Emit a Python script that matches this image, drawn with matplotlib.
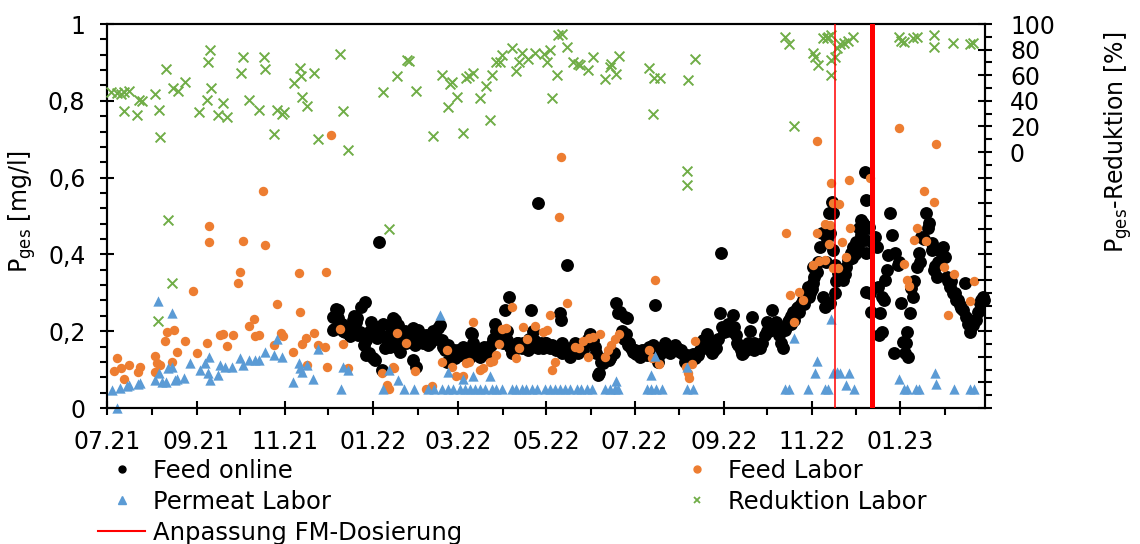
import numpy as np
import matplotlib
matplotlib.use("Agg")
import matplotlib.pyplot as plt
import matplotlib.dates as mdates
from matplotlib.ticker import MultipleLocator, FuncFormatter
from matplotlib.lines import Line2D

plt.rcParams['font.family'] = ['DejaVu Sans']
plt.rcParams['mathtext.fontset'] = 'dejavusans'

# ---------------- data (x = days since START) ----------------
START = '2021-07-01'
X_END_DAY = 607.5
fm_dates = ['2022-11-17', '2022-12-12']          # Anpassung FM-Dosierung

# Feed online  P_ges [mg/l]
feed_online = [
    (156.5,.238),(156.5,.203),(157,.205),(158.5,.257),(159.5,.234),(160,.255),(160.5,.22),(162.5,.219),
    (163.5,.2),(164.5,.199),(166,.21),(168,.188),(169.5,.208),(170,.229),(171,.24),(172.5,.225),(173,.234),
    (174,.19),(175,.199),(176,.262),(177.5,.164),(178.5,.277),(179.5,.177),(179.5,.138),(181,.142),(182,.2),
    (183,.225),(184,.129),(185.5,.125),(186.5,.181),(187.5,.21),(188.5,.433),(189,.194),(190,.099),(191,.22),
    (192.5,.155),(193.5,.177),(195,.19),(196,.16),(197,.208),(198,.234),(199,.229),(199,.194),(200.5,.177),
    (201.5,.155),(201.5,.216),(203,.147),(204,.19),(206,.2),(207,.17),(208.5,.199),(210,.18),(212,.2075),
    (212,.125),(213,.164),(213.5,.1075),
    (215.5,.203),(216.5,.18),(217.5,.19),(218.5,.17),(220,.177),(221,.19),(222,.164),(223.5,.17),(224.5,.186),
    (225.5,.2),(227,.194),(228,.18),(229,.2075),(230.5,.216),(231.5,.177),(232.5,.16),(234,.151),(235,.12),
    (236,.164),(237,.15),(238.5,.142),(240,.15),(241,.13),
    (242,.138),(243,.15),(244,.138),(244,.142),(245.5,.145),(246.5,.16),(247.5,.151),(248.5,.14),(249.5,.14),
    (251,.134),(252,.195),(252.5,.194),(253.5,.17),(254.5,.155),(255.5,.14),(256.5,.15),(258,.134),(259.5,.151),
    (261,.16),(262.5,.155),(263.5,.14),(264.5,.16),(266,.164),(267,.18),(268.5,.22),(269.5,.2),(270.5,.18),
    (271.5,.19),
    (272.5,.199),(274,.17),(275.5,.255),(276.5,.2),(277,.177),(278,.29),(279,.16),(280,.142),(281.5,.15),
    (282,.16),(283.5,.17),(284.5,.17),(286,.16),(287,.155),(288,.17),(289,.16),(290,.164),(291,.15),(292,.18),
    (293.5,.255),(294.5,.2),(295.5,.177),(296.5,.17),(297,.16),(298.5,.155),(298.5,.535),(299,.165),(300,.17),
    (302,.155),
    (303,.17),(304,.17),(305,.16),(306.5,.155),(307,.16),(308,.165),(309.5,.16),(311,.151),(312.5,.16),
    (313.5,.2465),(314,.229),(314.5,.142),(315,.17),(316,.16),(318,.372),(319,.15),(320.5,.134),(321.5,.15),
    (322.5,.16),(324,.17),(325,.15),(326,.142),(327,.16),(328,.16),(329.5,.151),(331,.17),(332.5,.18),
    (334,.194),(335,.18),(336.5,.177),(337.5,.16),(338.5,.142),(339.5,.086),(340.5,.09),(342,.12),(343.5,.116),
    (345,.13),(347,.125),(348,.13),(349,.135),(350.5,.142),(352,.273),(353.5,.2465),(355,.25),(356.5,.2),
    (357.5,.18),(358.5,.238),(359,.194),(359.5,.234),(360.5,.164),(361.5,.17),(362.5,.155),
    (364,.147),(365,.15),(366,.14),(368,.14),(368.5,.134),(370,.15),(371,.14),(372,.15),(373.5,.138),(375,.16),
    (375.5,.15),(376.5,.16),(378,.164),(379,.268),(380,.14),(381,.12),(382.5,.14),(383.5,.15),(384.5,.16),
    (386,.168),(386.5,.15),(387.5,.155),(389.5,.142),(390.5,.16),(391,.15),(393,.164),
    (394.5,.155),(396.5,.147),(397.5,.15),(398.5,.14),(400,.12),(401,.138),(402,.13),(403,.12),(404.5,.134),
    (405.5,.14),(406.5,.13),(407.5,.14),(409,.138),(410.5,.15),(411.5,.16),(412.5,.177),(413.5,.17),(415,.194),
    (415.5,.18),(416.5,.16),(417.5,.15),(418.5,.142),(420,.15),(421,.16),(421.5,.155),(423,.18),(424,.2465),
    (424.5,.404),(425.5,.21),(427,.199),(428.5,.2),(430,.22),(431.5,.2),(433,.242),(434,.21),(435,.19),
    (436,.17),(436.5,.164),(438.5,.15),(439.5,.14),(440,.142),(442,.15),(443,.16),(443.5,.168),(445,.2),
    (446,.238),(447.5,.17),(448,.151),(450,.16),(451,.165),(451.5,.155),(453.5,.17),
    (455,.19),(456.5,.225),(457,.2),(458,.2),(459,.21),(460,.255),(461.5,.22),(463,.225),(464,.2),(465,.19),
    (466.5,.17),(468,.155),(469,.203),(470,.21),(471,.225),(472,.23),(473,.24),(473.5,.22),(474.5,.251),
    (475.5,.23),(476.5,.25),(477.5,.26),(478,.264),(479,.25),(480,.27),(481.5,.281),(482.5,.27),(483.5,.3),
    (484,.29),
    (485,.316),(486,.29),(486.5,.3),(487.5,.31),(488.5,.325),(488.5,.368),(489.5,.34),(491,.355),(492,.38),
    (493,.42),(494.5,.455),(495.5,.29),(496.5,.264),(497.5,.38),(498,.44),(499.5,.509),(500,.455),(500,.273),
    (501.5,.537),(502,.507),(502.5,.411),(503.5,.372),(503.5,.299),(504.5,.33),(506,.351),(507.5,.34),
    (508.5,.36),(509.5,.333),(510.5,.35),(511,.368),(513,.385),(514.5,.403),
    (515.5,.39),(516,.42),(517.5,.4),(518.5,.433),(519.5,.42),(520.5,.468),(521.5,.45),(522,.49),(523,.481),
    (524.5,.4375),(524.5,.615),(525.5,.403),(525.5,.542),(525.5,.303),(526.5,.47),(527.5,.472),(528,.3),
    (528.5,.25),(529,.433),(531.5,.446),(532.5,.42),(533.5,.316),(534.5,.19),(535,.2465),(536,.29),(536.5,.199),
    (537.5,.28),(538,.333),(539.5,.359),(540.5,.398),(541.5,.507),(543,.45),(544.5,.142),(545,.403),
    (547.5,.372),(548,.38),(549.5,.273),(550.5,.173),(552,.144),(553,.168),(553.5,.199),(554,.134),(555.5,.2465),
    (556.5,.312),(557.5,.29),(558.5,.33),(560.5,.368),(562,.403),(562.5,.38),(563.5,.446),(565,.44),(567,.507),
    (568,.47),(569,.481),(570.5,.411),(571,.43),(572,.359),(573,.37),(574.5,.342),(575,.38),(576,.411),
    (577.5,.4),(578.5,.42),(579.5,.394),(581,.342),(582,.33),(583,.316),(584,.33),(585.5,.299),(586.5,.3),
    (587.5,.281),(589,.28),(590,.268),(591,.26),(592.5,.255),(593.5,.325),(594.5,.238),(596,.22),(597,.199),
    (598,.21),(599.5,.216),(600.5,.23),(601.5,.229),(603,.25),(604,.273),(605,.28),(606,.29),(607,.28),
]

# Feed Labor  P_ges [mg/l]
feed_labor = [
    (5,.097),(6.7,.129),(9.7,.103),(12,.075),(15.3,.112),(21.7,.095),(23,.108),(33,.135),(33.4,.095),
    (34.6,.116),(36.7,.112),(40,.175),(41.5,.199),(44.7,.12),(46.6,.203),(48.2,.147),(54,.175),(59.6,.305),
    (62.6,.144),(69,.17),(70.6,.474),(70.6,.433),(78,.189),(80.5,.193),(82.8,.161),(87.5,.19),(90.8,.326),
    (92,.353),(94.3,.436),(98.2,.214),(101.9,.231),(102.4,.1875),(105.4,.19),(108.1,.566),(109.3,.424),
    (115.3,.164),(117.3,.27),(120.3,.196),(122,.1875),(128.9,.147),(133,.351),(133.5,.251),(135.2,.167),
    (137.7,.181),(138.2,.112),(143.1,.196),(146.1,.165),(150.8,.158),(151.5,.353),(152.4,.108),(154.8,.711),
    (161,.205),(163,.167),(167,.103),(190.6,.09),(193.4,.06),(195.3,.049),(197.8,.108),(198.8,.103),
    (200.8,.195),(207.2,.169),(213.2,.096),(220.5,.049),(224.6,.057),(231.6,.12),(235.1,.15),(238.6,.1075),
    (241.5,.084),(246,.083),(248.5,.118),(250.5,.12),(253.5,.225),(258.4,.099),(260.4,.103),(264.9,.12),
    (267.4,.123),(269.4,.138),(271.4,.167),(273.4,.205),(276.3,.2075),(280.3,.262),(282.9,.129),(285.3,.155),
    (288,.21),(290.7,.18),(296.2,.2135),(301.8,.199),(304.2,.203),(306.4,.242),(308.1,.1),(310.1,.12),
    (312.6,.4985),(314.3,.6545),(318.1,.273),(324,.158),(326.7,.155),(329.5,.175),(333,.134),(333.6,.181),
    (336.4,.186),(340.9,.193),(344.5,.132),(346.9,.151),(348.4,.164),(351.4,.179),(354.4,.193),(374.9,.151),
    (377.4,.13),(379,.334),(382.2,.114),(400.6,.108),(402.1,.09),(402.6,.077),(404.6,.115),(406.5,.175),
    (469.5,.455),(472.4,.294),(475.4,.225),(478.7,.303),(481.7,.281),(488.3,.372),(491,.455),(491.6,.6945),
    (492.5,.384),(496.7,.479),(497,.385),(499.4,.427),(500,.477),(500.8,.585),(502,.535),(502,.364),
    (505.9,.364),(506.5,.531),(508.5,.433),(511.3,.394),(513.5,.594),(514.4,.47),(527.8,.598),(548.1,.7295),
    (551.3,.375),(553.2,.333),(555,.318),(558.6,.4375),(560.6,.468),(565.6,.566),(566.6,.436),(572.5,.537),
    (573.3,.6875),(579,.368),(582,.242),(585.9,.349),(597.4,.2795),(599.7,.3315),
]

# Permeat Labor  P_ges [mg/l]
permeat_labor = [
    (3.3,.047),(6.7,.0),(9,.051),(13.7,.056),(15.3,.06),(21.7,.0625),(23,.066),(33,.073),(35.1,.2795),
    (35.8,.092),(38.3,.0685),(40.8,.0685),(42.4,.103),(44.7,.2465),(44.7,.1075),(47,.073),(48.7,.0745),
    (53.5,.077),(57.5,.116),(64.3,.099),(67.8,.118),(70.1,.09),(70.6,.134),(71.3,.073),(76.5,.086),(78.1,.112),
    (81.5,.1075),(86.3,.1075),(92,.129),(94.3,.112),(98.2,.125),(102.4,.125),(105.4,.125),(109.5,.147),
    (115.3,.138),(117.8,.179),(120.8,.134),(128.9,.0685),(133,.116),(133.5,.103),(135.2,.095),(138.2,.112),
    (142.7,.0745),(146.1,.153),(161.6,.049),(163,.1075),(167,.099),(191.1,.049),(195.3,.1),(201.5,.073),
    (205.8,.05),(212.7,.05),(222.3,.05),(226.6,.05),(230.3,.242),(231.6,.05),(235.6,.095),(236.2,.05),
    (239.6,.05),(244.2,.05),(246.5,.0745),(247.5,.05),(251.1,.05),(253.5,.083),(254.5,.05),(258,.05),
    (261.4,.05),(264.9,.083),(266.1,.05),(269.4,.05),(273.1,.05),(279.9,.05),(283.3,.05),(287,.05),(290.2,.05),
    (293.8,.05),(297.2,.05),(303,.05),(306.4,.05),(309.9,.05),(313.3,.05),(316.8,.05),(320.3,.05),(324.9,.05),
    (328.3,.05),(331.8,.05),(335.3,.05),(344.5,.05),(347.9,.05),(351.4,.05),(352.2,.071),(353.7,.05),
    (373.3,.05),(376.7,.05),(376.7,.086),(379,.135),(380.2,.05),(383.7,.05),(401,.106),(401,.05),(405.5,.049),
    (469,.049),(471.8,.049),(475.4,.181),(485.1,.049),(490,.09),(491.5,.123),(496.7,.049),(499,.049),
    (500.8,.231),(502,.09),(505.1,.095),(507.4,.09),(511.4,.06),(513.5,.09),(516.7,.049),(548.1,.0745),
    (551.3,.049),(553.6,.049),(559.6,.05),(561.8,.05),(572.7,.092),(573.3,.0625),(585.9,.049),(597,.049),
    (599.7,.049),
]

# Reduktion Labor  P_ges-Reduktion [%]
reduktion_labor = [
    (3,47),(7,46),(10,45),(12,47),(12,32),(15,48),(21,29),(22,41),(24,40),(33,45),(35,-132),(36,33),(37,11.5),
    (41,65),(42,-53),(45,-102),(46,50),(49,48),(54,55),(64,31.5),(69,41),(70,70.5),(71,80),(72,50),(77,29),
    (80,38),(83,27.6),(92.4,61.5),(94.4,74),(98.4,41),(105.4,33),(108.3,74),(109.3,64.6),(115.3,14),(117.3,33),
    (121.3,30),(122.3,31),(129.2,54),(133.2,66),(134.2,59),(135.2,43),(138.2,36),(143.1,62),(146.1,10),
    (161,76.6),(163,32),(167,1.6),(190.8,46.6),(194.8,-60),(200.8,59),(207.7,72),(208.7,71),(213.7,48),
    (225.6,12.5),(231.6,60),(235.6,35),(237.6,53),(238.6,55),(242.5,43),(246.5,15),(248.5,57.6),(250.5,59),
    (253.5,62),(258.4,42),(262.4,51.6),(264.9,25),(266.4,60),(269.4,70),(271.9,70.6),(273.4,76),(280.3,81),
    (283.3,63),(285.3,70.6),(287.3,77),(291.2,73),(296.2,77.6),(302.2,76.6),(304.2,70.6),(306.2,80),(308.1,42),
    (311.1,60),(312.1,91.4),(315.1,92),(318.1,82),(322.6,70.6),(326,69),(327,68),(333,64),(336,74),(344.4,57),
    (347.9,66.7),(348.9,68.75),(351.9,61),(354.4,75),(374.7,66),(377.7,29.7),(378.7,58),(382.7,58),
    (401.6,-15),(401.6,-26),(402.1,56),(406.5,72.4),(469.2,90),(471.8,84),(475.1,20),(488.5,77),(490,74),
    (492,68),(495.5,88.8),(498,88.8),(499,89.6),(501,72),(501,60),(501,91.4),(503.6,74.5),(505,81),(506.9,84),
    (509.9,85),(512.9,87),(515.9,90),(547.7,90),(549.7,87),(551.7,86),(557.6,88.8),(560.6,89.6),(572.5,91.4),
    (572,81.8),(585.5,85.4),(597,84),(599.4,85),
]

left_ticks = [0, 0.2, 0.4, 0.6, 0.8, 1.0]
right_labels_min = 0      # right-axis labels shown only from 0 to 100

# ---------------- plotting ----------------
t0 = mdates.date2num(np.datetime64(START))

def split(data):
    d, v = zip(*data)
    return t0 + np.asarray(d, float), np.asarray(v, float)

W, H = 1140, 544
fig = plt.figure(figsize=(W / 100, H / 100), dpi=100)
ax = fig.add_axes([107 / W, 136 / H, 878 / W, 384 / H])
ax2 = ax.twinx()

C_ON, C_FL, C_PL, C_RL = 'black', '#ED7D31', '#5B9BD5', '#70AD47'

x, y = split(feed_online)
ax.scatter(x, y, s=86, c=C_ON, linewidths=0, zorder=3, clip_on=False)
x, y = split(feed_labor)
ax.scatter(x, y, s=46, c=C_FL, linewidths=0, zorder=4, clip_on=False)
x, y = split(permeat_labor)
ax.scatter(x, y, s=55, marker='^', c=C_PL, linewidths=0, zorder=5, clip_on=False)
x, y = split(reduktion_labor)
ax2.scatter(x, y, s=50, marker='x', c=C_RL, linewidths=1.4, zorder=3, clip_on=False)

fm_x = mdates.date2num(np.array(fm_dates, dtype='datetime64[D]'))
ax2.axvline(fm_x[0], color='#FF0000', lw=1.1, zorder=10)
ax2.axvline(fm_x[1], color='#FF0000', lw=3.6, zorder=10)

ax.set_xlim(t0, t0 + X_END_DAY)
ax.set_ylim(0, 1)
ax2.set_ylim(-200, 100)

FS = 17
ax.xaxis.set_major_locator(mdates.MonthLocator(bymonth=[1, 3, 5, 7, 9, 11]))
ax.xaxis.set_minor_locator(mdates.MonthLocator())
ax.xaxis.set_major_formatter(mdates.DateFormatter('%m.%y'))
ax.set_yticks(left_ticks)
ax.yaxis.set_minor_locator(MultipleLocator(0.04))
ax.yaxis.set_major_formatter(FuncFormatter(lambda v, p: ('%g' % round(v, 2)).replace('.', ',')))

ax2.yaxis.set_major_locator(MultipleLocator(20))
ax2.yaxis.set_minor_locator(MultipleLocator(10))
ax2.yaxis.set_major_formatter(FuncFormatter(
    lambda v, p: '%d' % round(v) if v >= right_labels_min - 0.5 else ''))

for a in (ax, ax2):
    for sp in a.spines.values():
        sp.set_linewidth(1.5)
        sp.set_color('black')

ax.tick_params(axis='x', which='major', direction='inout', length=10, width=1.5,
               labelsize=FS, pad=11, top=False)
ax.tick_params(axis='x', which='minor', direction='out', length=5, width=1.5, top=False)
ax.tick_params(axis='y', which='major', direction='inout', length=10, width=1.5,
               labelsize=FS, pad=10.5, right=False)
ax.tick_params(axis='y', which='minor', direction='out', length=5, width=1.5, right=False)
ax2.tick_params(axis='y', which='major', direction='inout', length=10, width=1.5,
                labelsize=FS, pad=13)
ax2.tick_params(axis='y', which='minor', direction='out', length=5, width=1.5)

fig.text(22 / W, 1 - 212 / H, r'P$_{\mathregular{ges}}$ [mg/l]', rotation=90,
         ha='center', va='center', fontsize=FS)
fig.text(1118 / W, 1 - 142 / H, r'P$_{\mathregular{ges}}$-Reduktion [%]', rotation=90,
         ha='center', va='center', fontsize=FS)

# legends (two columns, Excel style)
h_on = Line2D([], [], marker='o', ls='none', color=C_ON, markersize=5)
h_fl = Line2D([], [], marker='o', ls='none', color=C_FL, markersize=5)
h_pl = Line2D([], [], marker='^', ls='none', color=C_PL, markersize=5.5)
h_rl = Line2D([], [], marker='x', ls='none', color=C_RL, markersize=5, mew=1.3)
h_fm = Line2D([], [], color='#FF0000', lw=1.5)

common = dict(loc='upper left', frameon=False, fontsize=17.5, handlelength=1.95,
              handletextpad=0.33, borderpad=0, borderaxespad=0, labelspacing=0.28)
fig.legend([h_on, h_pl, h_fm], ['Feed online', 'Permeat Labor', 'Anpassung FM-Dosierung'],
           bbox_to_anchor=(98 / W, 1 - 459 / H), **common)
fig.legend([h_fl, h_rl], ['Feed Labor', 'Reduktion Labor'],
           bbox_to_anchor=(673 / W, 1 - 459 / H), **common)

fig.savefig('out.png', dpi=100)
